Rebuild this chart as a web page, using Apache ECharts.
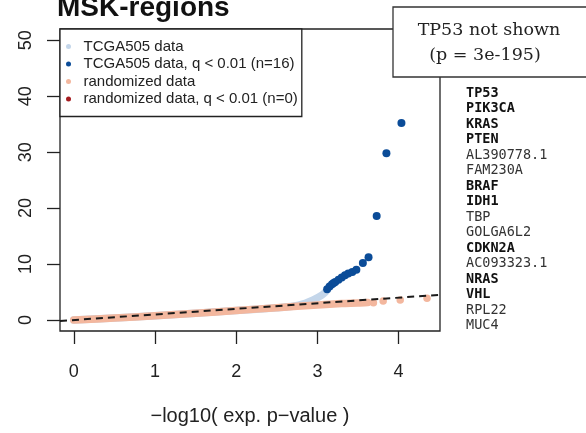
<!DOCTYPE html>
<html>
<head>
<meta charset="utf-8">
<script src="https://cdn.jsdelivr.net/npm/echarts@6/dist/echarts.min.js"></script>
<style>
  html, body { margin: 0; padding: 0; background: #fff; }
  #chart { width: 586px; height: 433px; }
</style>
</head>
<body>
<div id="chart"></div>
<script>
// QQ plot: observed vs expected -log10 p-values, MSK regions
const xTicks = [0, 1, 2, 3, 4];
const yTicks = [0, 10, 20, 30, 40, 50];

// Bulk of the TCGA505 points (dense band along the diagonal)
const tcgaBand = [[0, 0], [1, 0.75], [2, 1.7], [2.5, 2.2], [2.7, 2.45], [2.85, 3.0],
  [2.95, 3.6], [3.05, 4.4], [3.1, 5.0]];
// TCGA505 genes with q < 0.01
const tcgaSig = [[3.12, 5.5], [3.15, 6.0], [3.18, 6.4], [3.20, 6.6], [3.22, 6.8], [3.26, 7.2],
  [3.30, 7.6], [3.34, 8.0], [3.38, 8.3], [3.43, 8.6], [3.48, 9.0], [3.56, 10.2],
  [3.63, 11.2], [3.73, 18.6], [3.85, 29.8], [4.035, 35.2]];
// Randomized data: dense band plus the sparse upper tail
const randBand = [[0, 0], [0.5, 0.35], [1, 0.75], [1.5, 1.2], [2, 1.7], [2.5, 2.2],
  [3, 2.7], [3.3, 2.95], [3.5, 3.05], [3.62, 3.15]];
const randTail = [[3.69, 3.1], [3.81, 3.4], [4.02, 3.6], [4.35, 3.9]];
const randSig = [];
// Expected = observed reference line
const refLine = [[-0.17, -0.17], [4.51, 4.51]];

const geneNames = ['TP53', 'PIK3CA', 'KRAS', 'PTEN', 'AL390778.1', 'FAM230A', 'BRAF', 'IDH1',
  'TBP', 'GOLGA6L2', 'CDKN2A', 'AC093323.1', 'NRAS', 'VHL', 'RPL22', 'MUC4'];
const geneBold = [true, true, true, true, false, false, true, true,
  false, false, true, false, true, true, false, false];

const C_LIGHT = '#c4d6ea';
const C_BLUE = '#0b4c98';
const C_SALMON = '#f3b79e';
const C_RED = '#a51c20';
const INK = '#222';
const SANS = '"Liberation Sans", Arial, sans-serif';

const chart = echarts.init(document.getElementById('chart'), null, { renderer: 'canvas' });

const geneTexts = geneNames.map((g, i) => ({
  type: 'text',
  x: 466,
  y: 93 + i * 15.5,
  z: 100,
  style: {
    text: g,
    fill: geneBold[i] ? '#111' : '#333',
    font: (geneBold[i] ? 'bold ' : '') + '13.5px "DejaVu Sans Mono", monospace',
    textAlign: 'left',
    textVerticalAlign: 'middle'
  }
}));

chart.setOption({
  animation: false,
  grid: {
    left: 60, right: 146, top: 29, bottom: 102,
    show: true, borderColor: INK, borderWidth: 1.3, backgroundColor: 'transparent'
  },
  xAxis: {
    type: 'value', min: -0.17, max: 4.51,
    name: '\u2212log10( exp. p\u2212value )',
    nameLocation: 'middle', nameGap: 75,
    nameTextStyle: { fontSize: 20, color: INK, fontFamily: SANS },
    axisLine: { show: false, onZero: false },
    splitLine: { show: false },
    axisTick: { show: true, customValues: xTicks, length: 13, lineStyle: { color: INK, width: 1.3 } },
    axisLabel: { customValues: xTicks, fontSize: 18, color: INK, fontFamily: SANS, margin: 32 }
  },
  yAxis: {
    type: 'value', min: -1.96, max: 52,
    axisLine: { show: false, onZero: false },
    splitLine: { show: false },
    axisTick: { show: true, customValues: yTicks, length: 13, lineStyle: { color: INK, width: 1.3 } },
    axisLabel: { customValues: yTicks, fontSize: 18, color: INK, fontFamily: SANS, rotate: 90, margin: 25 }
  },
  legend: {
    orient: 'vertical', left: 60, top: 29,
    padding: [10, 4, 10, 6],
    itemGap: 2.5,
    itemWidth: 12, itemHeight: 5,
    icon: 'circle',
    selectedMode: false,
    borderColor: INK, borderWidth: 1.3, backgroundColor: '#fff',
    textStyle: { fontSize: 15, color: INK, fontFamily: SANS, lineHeight: 15, padding: [0, 0, 0, 4] },
    data: ['TCGA505 data', 'TCGA505 data, q < 0.01 (n=16)', 'randomized data', 'randomized data, q < 0.01 (n=0)']
  },
  series: [
    {
      name: 'TCGA505 data', type: 'line', data: tcgaBand, showSymbol: false, smooth: 0.3,
      color: C_LIGHT, lineStyle: { color: C_LIGHT, width: 7.5, cap: 'round', join: 'round' }, z: 2
    },
    {
      name: 'TCGA505 data, q < 0.01 (n=16)', type: 'scatter', data: tcgaSig, symbolSize: 8,
      color: C_BLUE, itemStyle: { color: C_BLUE, opacity: 1 }, z: 4
    },
    {
      name: 'randomized data', type: 'line', data: randBand, showSymbol: false, smooth: 0.3,
      color: C_SALMON, lineStyle: { color: C_SALMON, width: 7.5, cap: 'round', join: 'round' }, z: 3
    },
    {
      name: 'randomized data', type: 'scatter', data: randTail, symbolSize: 7.5,
      color: C_SALMON, itemStyle: { color: C_SALMON, opacity: 1 }, z: 3
    },
    {
      name: 'randomized data, q < 0.01 (n=0)', type: 'scatter', data: randSig, symbolSize: 8,
      color: C_RED, itemStyle: { color: C_RED, opacity: 1 }, z: 3
    },
    {
      name: 'ref', type: 'line', data: refLine, showSymbol: false, silent: true,
      lineStyle: { color: '#1a1a1a', width: 2, type: [7, 5] }, z: 5
    }
  ],
  graphic: [
    {
      type: 'text', x: 57, y: 8, z: 100,
      style: { text: 'MSK-regions', font: 'bold 28px "Liberation Sans", Arial, sans-serif', fill: '#111', textAlign: 'left', textVerticalAlign: 'middle' }
    },
    {
      type: 'rect', z: 100,
      shape: { x: 393, y: 7, width: 220, height: 70 },
      style: { fill: '#fff', stroke: '#333', lineWidth: 1.3 }
    },
    {
      type: 'text', x: 489, y: 30, z: 101,
      style: { text: 'TP53 not shown', font: '17.5px "DejaVu Serif", serif', fill: '#222', textAlign: 'center', textVerticalAlign: 'middle' }
    },
    {
      type: 'text', x: 485, y: 55, z: 101,
      style: { text: '(p = 3e-195)', font: '17.5px "DejaVu Serif", serif', fill: '#222', textAlign: 'center', textVerticalAlign: 'middle' }
    }
  ].concat(geneTexts)
});
</script>
</body>
</html>
